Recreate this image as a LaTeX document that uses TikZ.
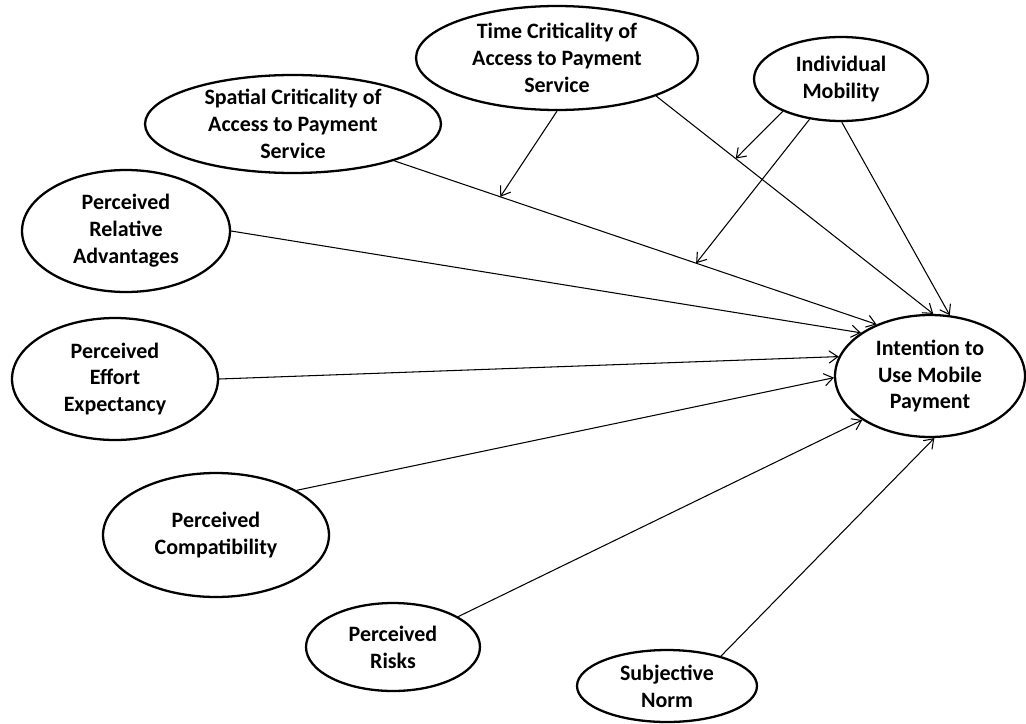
\documentclass[tikz,border=0pt]{standalone}
\usepackage{fontspec}
\setmainfont{Carlito}
\usetikzlibrary{shapes.geometric,arrows.meta}
\begin{document}
\begin{tikzpicture}[x=0.02cm,y=-0.02cm,
  ell/.style={ellipse,draw,line width=1.3pt,inner sep=-40pt,align=center,
    font=\bfseries\fontsize{12.5}{15.3}\selectfont},
  conn/.style={line width=0.6pt,-{Straight Barb[length=5pt,width=7pt]}}]
\useasboundingbox (0,0) rectangle (1026,723);

\node[ell,minimum width=5.64cm,minimum height=2.08cm] (time) at (557,58) {Time Criticality of\\Access to Payment\\Service};
\node[ell,minimum width=3.48cm,minimum height=1.68cm] (indiv) at (841,79) {Individual\\Mobility};
\node[ell,minimum width=5.92cm,minimum height=1.96cm] (spat) at (293,124) {Spatial Criticality of\\Access to Payment\\Service};
\node[ell,minimum width=4.16cm,minimum height=2.44cm] (rel) at (126,231) {Perceived\\Relative\\Advantages};
\node[ell,minimum width=4.12cm,minimum height=2.44cm] (eff) at (115,379) {Perceived\\Effort\\Expectancy};
\node[ell,minimum width=4.52cm,minimum height=2.48cm] (comp) at (216,535) {Perceived\\Compatibility};
\node[ell,minimum width=3.48cm,minimum height=1.76cm] (risk) at (393,647) {Perceived\\Risks};
\node[ell,minimum width=3.6cm,minimum height=1.44cm] (subj) at (667,686) {Subjective\\Norm};
\node[ell,minimum width=3.8cm,minimum height=2.44cm] (int) at (930,376) {Intention to\\Use Mobile\\Payment};

\draw[conn] (spat.-20) -- (int.136) coordinate[pos=0.22] (m1) coordinate[pos=0.626] (m3);
\draw[conn] (time.-21) -- (int.87) coordinate[pos=0.287] (m2);
\draw[conn] (indiv.-89) -- (int.72);
\draw[conn] (rel.0) -- (int.148);
\draw[conn] (eff.0) -- (int.168);
\draw[conn] (comp.29) -- (int.181);
\draw[conn] (risk.25) -- (int.213);
\draw[conn] (subj.29) -- (int.274);

\draw[conn] (time.-90) -- (m1);
\draw[conn] (indiv.209) -- (m2);
\draw[conn] (indiv.-128) -- (m3);
\end{tikzpicture}
\end{document}
